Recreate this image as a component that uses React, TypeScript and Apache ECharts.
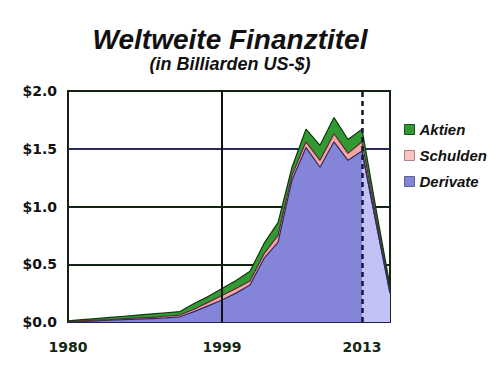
import React, { useEffect, useRef } from "react";
import * as echarts from "echarts";

const categories = [
  "1980", "1982", "1984", "1986", "1988", "1990", "1992", "1994", "1995", "1997", "1998", "1999",
  "2002", "2004", "2006", "2007", "2008", "2009", "2010", "2011", "2012", "2013", "2014", "2015",
];
const shownLabels = ["1980", "1999", "2013"];
const yTicks = ["$0.0", "$0.5", "$1.0", "$1.5", "$2.0"];

const derivate = [
  0.0, 0.005, 0.01, 0.015, 0.02, 0.025, 0.03, 0.035, 0.045, 0.09, 0.14, 0.19,
  0.25, 0.32, 0.55, 0.69, 1.23, 1.51, 1.34, 1.56, 1.4, 1.48, 0.86, 0.25,
];
const schulden = [
  0.005, 0.005, 0.005, 0.005, 0.01, 0.01, 0.01, 0.015, 0.015, 0.02, 0.03, 0.04,
  0.04, 0.035, 0.04, 0.06, 0.04, 0.05, 0.06, 0.07, 0.06, 0.08, 0.05, 0.03,
];
const aktien = [
  0.005, 0.01, 0.015, 0.02, 0.02, 0.025, 0.03, 0.03, 0.03, 0.05, 0.05, 0.06,
  0.07, 0.085, 0.09, 0.11, 0.07, 0.11, 0.13, 0.14, 0.12, 0.11, 0.07, 0.03,
];
// derivatives after the 2013 marker are drawn lighter
const projectionStart = "2013";

const GREEN = "#339933";
const PINK = "#f4a7a2";
const PURPLE = "#8484d8";
const LIGHT_PURPLE = "#c2c2f6";

export default function App() {
  const ref = useRef<HTMLDivElement>(null);
  useEffect(() => {
    if (!ref.current) return;
    const chart = echarts.init(ref.current, undefined, { renderer: "svg" });
    const startIdx = categories.indexOf(projectionStart);
    const lightDerivate = derivate.map((v, i) => (i >= startIdx ? v : null));
    chart.setOption({
      animation: false,
      backgroundColor: "#ffffff",
      title: [
        {
          text: "Weltweite Finanztitel",
          left: 225,
          top: 20,
          textAlign: "center",
          textStyle: {
            fontFamily: "Liberation Sans",
            fontWeight: "bold",
            fontStyle: "italic",
            fontSize: 28,
            color: "#111111",
          },
        },
        {
          text: "(in Billiarden US-$)",
          left: 225,
          top: 50,
          textAlign: "center",
          textStyle: {
            fontFamily: "Liberation Sans",
            fontWeight: "bold",
            fontStyle: "italic",
            fontSize: 18,
            color: "#111111",
          },
        },
      ],
      legend: {
        orient: "vertical",
        left: 399,
        top: 117,
        itemWidth: 10,
        itemHeight: 10,
        itemGap: 11,
        icon: "rect",
        textStyle: {
          fontFamily: "Liberation Sans",
          fontWeight: "bold",
          fontStyle: "italic",
          fontSize: 15,
          color: "#111111",
        },
        data: [
          { name: "Aktien", itemStyle: { color: GREEN, borderColor: "#1a4a1a", borderWidth: 1 } },
          { name: "Schulden", itemStyle: { color: "#f6c4c4", borderColor: "#b08080", borderWidth: 1 } },
          { name: "Derivate", itemStyle: { color: PURPLE, borderColor: "#606090", borderWidth: 1 } },
        ],
      },
      grid: {
        left: 68,
        right: 110,
        top: 91,
        bottom: 47,
        show: true,
        borderColor: "#142414",
        borderWidth: 2,
      },
      xAxis: {
        type: "category",
        data: categories,
        boundaryGap: false,
        axisLine: { show: true, lineStyle: { color: "#202050", width: 2 } },
        axisTick: { show: false },
        splitLine: { show: false },
        axisLabel: {
          interval: (i: number, v: string) => shownLabels.includes(v),
          margin: 18,
          fontFamily: "DejaVu Sans",
          fontWeight: "bold",
          fontSize: 14,
          color: "#142814",
        },
      },
      yAxis: {
        type: "value",
        min: 0,
        max: 2,
        interval: 0.5,
        axisLine: { show: false },
        axisTick: { show: false },
        axisLabel: {
          margin: 11,
          fontFamily: "DejaVu Sans",
          fontWeight: "bold",
          fontSize: 14,
          color: "#111111",
          formatter: (v: number) => yTicks[Math.round(v / 0.5)] ?? "",
        },
        splitLine: {
          show: true,
          lineStyle: {
            width: 2,
            color: ["#142414", "#142414", "#142414", "#2a2a5a", "#142414"],
          },
        },
      },
      series: [
        {
          name: "Derivate",
          type: "line",
          stack: "total",
          data: derivate,
          showSymbol: false,
          symbol: "none",
          itemStyle: { color: PURPLE },
          lineStyle: { color: "#2a2a60", width: 1.2 },
          areaStyle: { color: PURPLE, opacity: 1 },
        },
        {
          name: "DerivateLight",
          type: "line",
          data: lightDerivate,
          showSymbol: false,
          symbol: "none",
          itemStyle: { color: LIGHT_PURPLE },
          lineStyle: { color: "#2a2a60", width: 1.2 },
          areaStyle: { color: LIGHT_PURPLE, opacity: 1 },
        },
        {
          name: "Schulden",
          type: "line",
          stack: "total",
          data: schulden,
          showSymbol: false,
          symbol: "none",
          itemStyle: { color: PINK },
          lineStyle: { color: "#5a2a3a", width: 1.2 },
          areaStyle: { color: PINK, opacity: 1 },
        },
        {
          name: "Aktien",
          type: "line",
          stack: "total",
          data: aktien,
          showSymbol: false,
          symbol: "none",
          itemStyle: { color: GREEN },
          lineStyle: { color: "#0a3a0a", width: 1.2 },
          areaStyle: { color: GREEN, opacity: 1 },
          markLine: {
            silent: true,
            symbol: "none",
            label: { show: false },
            data: [
              { xAxis: "1999", lineStyle: { color: "#111111", type: "solid", width: 2 } },
              { xAxis: "2013", lineStyle: { color: "#15153a", type: [5, 4], width: 2.5 } },
            ],
          },
        },
      ],
    });
    return () => chart.dispose();
  }, []);
  return (
    <div
      ref={ref}
      style={{ position: "fixed", left: 0, top: 0, width: 500, height: 369 }}
    />
  );
}
